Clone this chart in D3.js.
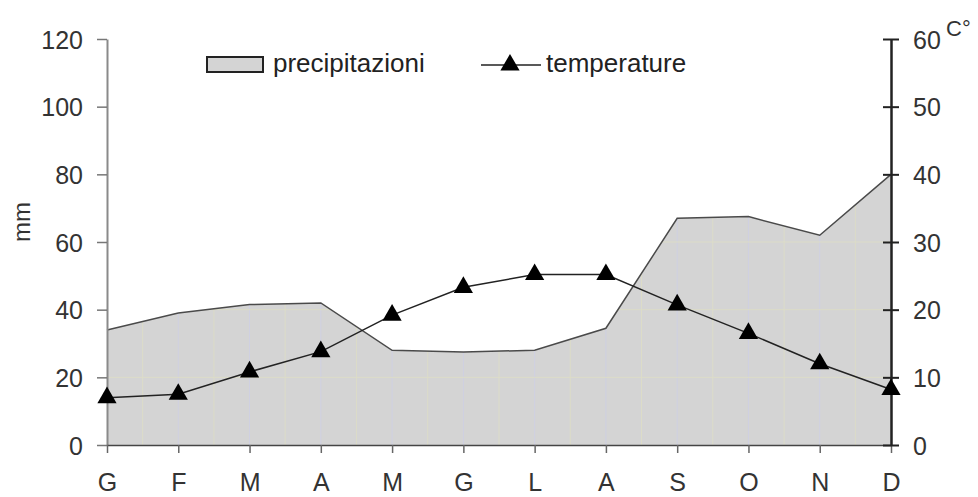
<!DOCTYPE html>
<html>
<head>
<meta charset="utf-8">
<script src="https://cdn.jsdelivr.net/npm/d3@7"></script>
<style>
  html, body { margin: 0; padding: 0; background: #fff; }
  svg { display: block; font-family: "Liberation Sans", Arial, sans-serif; }
</style>
</head>
<body>
<svg id="chart" width="978" height="497"></svg>
<script>
const months = ["G","F","M","A","M","G","L","A","S","O","N","D"];
const precipitation = [34, 39, 41.5, 42, 28, 27.5, 28, 34.5, 67, 67.5, 62, 80];
const temperature = [7, 7.5, 10.8, 13.8, 19.2, 23.3, 25.2, 25.2, 20.7, 16.5, 12, 8.2];
const leftTicks = [0, 20, 40, 60, 80, 100, 120];
const rightTicks = [0, 10, 20, 30, 40, 50, 60];

const svg = d3.select("#chart");
const x0 = 107, x1 = 891, yBot = 445, yTop = 39;

const x = d3.scalePoint().domain(d3.range(months.length)).range([x0, x1]);
const yL = d3.scaleLinear().domain([0, 120]).range([yBot, yTop]);
const yR = d3.scaleLinear().domain([0, 60]).range([yBot, yTop]);

const area = d3.area().x((d, i) => x(i)).y0(yBot).y1(d => yL(d));
const line = d3.line().x((d, i) => x(i)).y(d => yL(d));

svg.append("defs").append("clipPath").attr("id", "areaClip")
  .append("path").attr("d", area(precipitation));

svg.append("path").attr("d", area(precipitation)).attr("fill", "#d4d4d4");

const grid = svg.append("g").attr("clip-path", "url(#areaClip)");
const step = (x1 - x0) / (months.length - 1);
for (let k = 0; k < (months.length - 1) * 2; k++) {
  const gx = x0 + step * k / 2;
  grid.append("line").attr("x1", gx).attr("x2", gx).attr("y1", yTop).attr("y2", yBot)
    .attr("stroke", k % 2 ? "#dcdcc8" : "#cfd0e2").attr("stroke-width", 1);
}
leftTicks.slice(1).forEach(t => {
  grid.append("line").attr("x1", x0).attr("x2", x1).attr("y1", yL(t)).attr("y2", yL(t))
    .attr("stroke", "#dcdcc8").attr("stroke-width", 1);
});

svg.append("path").attr("d", line(precipitation)).attr("fill", "none")
  .attr("stroke", "#4a4a4a").attr("stroke-width", 1.5);

const gL = svg.append("g").attr("transform", `translate(${x0},0)`)
  .call(d3.axisLeft(yL).tickValues(leftTicks).tickSize(10).tickSizeOuter(0).tickPadding(14));
gL.select(".domain").attr("stroke", "#8a8a8a").attr("stroke-width", 2);
gL.selectAll(".tick line").attr("stroke", "#777").attr("stroke-width", 1.5);
gL.selectAll(".tick text").attr("font-size", 25).attr("fill", "#333")
  .attr("font-family", "'Liberation Sans', Arial, sans-serif").attr("dy", "0.36em");

const gB = svg.append("g").attr("transform", `translate(0,${yBot})`)
  .call(d3.axisBottom(x).tickSize(8).tickSizeOuter(0).tickPadding(20).tickFormat(i => months[i]));
gB.select(".domain").attr("stroke", "#444").attr("stroke-width", 1.5);
gB.selectAll(".tick line").attr("stroke", "#666").attr("stroke-width", 1.5);
gB.selectAll(".tick text").attr("font-size", 25).attr("fill", "#333")
  .attr("font-family", "'Liberation Sans', Arial, sans-serif");

const gR = svg.append("g").attr("transform", `translate(${x1},0)`)
  .call(d3.axisRight(yR).tickValues(rightTicks).tickSize(8).tickSizeOuter(0).tickPadding(14));
gR.select(".domain").attr("stroke", "#222").attr("stroke-width", 2.5);
gR.selectAll(".tick line").attr("x1", -8).attr("stroke", "#222").attr("stroke-width", 2);
gR.selectAll(".tick text").attr("font-size", 25).attr("fill", "#333")
  .attr("font-family", "'Liberation Sans', Arial, sans-serif").attr("dy", "0.36em");

svg.append("text").attr("x", 946).attr("y", 36).attr("font-size", 22).attr("fill", "#333").text("C°");

svg.append("text").attr("transform", "translate(30,222) rotate(-90)")
  .attr("text-anchor", "middle").attr("font-size", 24).attr("fill", "#333").text("mm");

const tline = d3.line().x((d, i) => x(i)).y(d => yR(d));
svg.append("path").attr("d", tline(temperature)).attr("fill", "none")
  .attr("stroke", "#222").attr("stroke-width", 1.5);
const tri = d3.symbol().type(d3.symbolTriangle).size(160);
svg.selectAll(".mk").data(temperature).enter().append("path")
  .attr("transform", (d, i) => `translate(${x(i)},${yR(d)})`)
  .attr("d", tri).attr("fill", "#000");

svg.append("rect").attr("x", 207).attr("y", 57).attr("width", 56).attr("height", 15)
  .attr("fill", "#d4d4d4").attr("stroke", "#222").attr("stroke-width", 2);
svg.append("text").attr("x", 273).attr("y", 72).attr("font-size", 26).attr("fill", "#222").text("precipitazioni");
svg.append("line").attr("x1", 481).attr("x2", 541).attr("y1", 65).attr("y2", 65)
  .attr("stroke", "#222").attr("stroke-width", 1.5);
svg.append("path").attr("transform", "translate(510,65)").attr("d", tri).attr("fill", "#000");
svg.append("text").attr("x", 546).attr("y", 72).attr("font-size", 26).attr("fill", "#222").text("temperature");
</script>
</body>
</html>
